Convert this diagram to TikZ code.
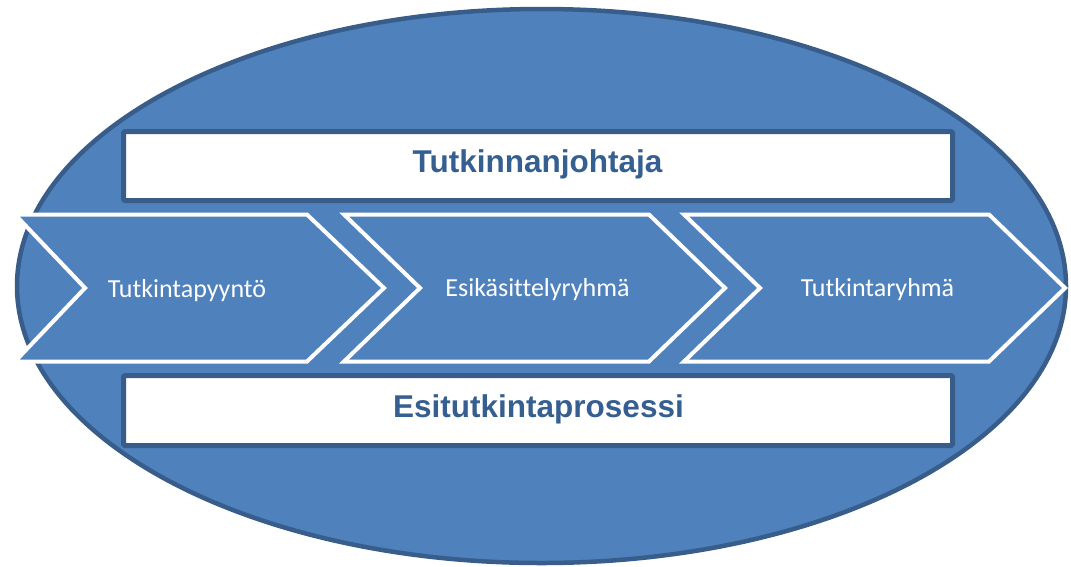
\documentclass[tikz,border=0pt]{standalone}
\usepackage{fontspec}
\setmainfont{Carlito}[Ligatures=NoCommon]
\newfontfamily\headfont{Liberation Sans}
\usetikzlibrary{shapes.geometric}

\definecolor{officeblue}{RGB}{79,129,189}
\definecolor{edgeblue}{RGB}{56,93,138}
\definecolor{titleblue}{RGB}{54,95,145}

\begin{document}
\begin{tikzpicture}[x=1pt,y=-1pt,
  outerring/.style={ellipse, draw=edgeblue, fill=officeblue, line width=4.5pt,
    minimum width=1049pt, minimum height=554pt, inner sep=0pt},
  titlebox/.style={draw=edgeblue, fill=white, line width=5pt, rounded corners=1.5pt,
    minimum width=829pt, inner sep=0pt, outer sep=0pt},
  titletext/.style={text=titleblue, inner sep=0pt, anchor=base,
    font=\headfont\bfseries\fontsize{31.5}{36}\selectfont},
  chevron/.style={fill=officeblue, draw=white, line width=4pt, line join=miter},
  steplabel/.style={text=white, inner sep=0pt, anchor=base,
    font=\fontsize{26}{30}\selectfont}]

\useasboundingbox (0,0) rectangle (1071,566);

% surrounding ellipse
\node[outerring] (ring) at (541.5,286) {};

% leader and process bars
\node[titlebox, minimum height=69pt] (leadbox) at (538,166) {};
\node[titlebox, minimum height=70pt] (procbox) at (538,410.5) {};
\node[titletext] (leadtext) at (537.5,172) {Tutkinnanjohtaja};
\node[titletext] (proctext) at (538.5,417) {Esitutkintaprosessi};

% process steps
\path[chevron] (15,214.5) -- (307,214.5) -- (384,288) -- (307,361.5)
  -- (15,361.5) -- (85,288) -- cycle;
\path[chevron] (344,214.5) -- (649,214.5) -- (725,288) -- (649,361.5)
  -- (344,361.5) -- (420,288) -- cycle;
\path[chevron] (684,214.5) -- (989,214.5) -- (1065,288) -- (989,361.5)
  -- (684,361.5) -- (760,288) -- cycle;

\node[steplabel] (step1) at (187,297) {Tutkintapyyntö};
\node[steplabel] (step2) at (537.5,296.5) {Esikäsittelyryhmä};
\node[steplabel] (step3) at (877.5,296.5) {Tutkintaryhmä};
\end{tikzpicture}
\end{document}
